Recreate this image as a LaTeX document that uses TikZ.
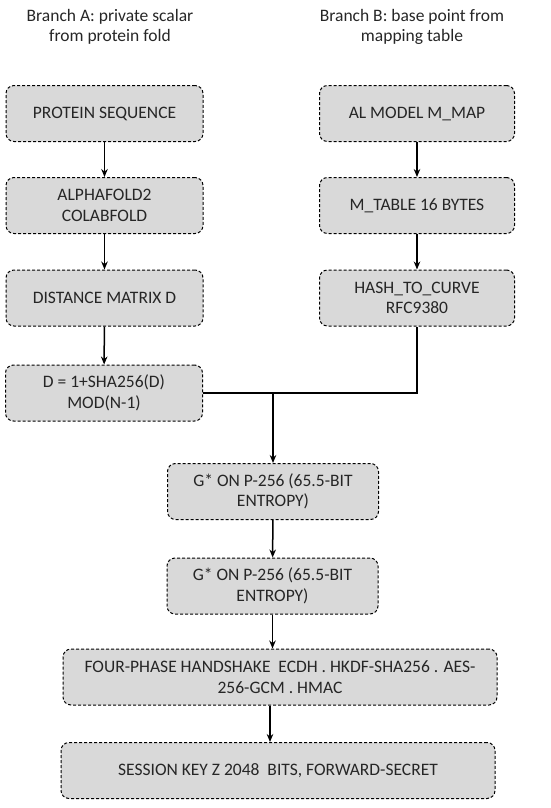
\documentclass[tikz,border=0pt]{standalone}
\usepackage{fontspec}
\setmainfont{Carlito}
\usetikzlibrary{arrows.meta}
\definecolor{boxgray}{HTML}{D9D9D9}

\begin{document}
\begin{tikzpicture}[x=1pt,y=-1pt,>={Stealth[length=8pt,width=6.5pt]},line width=1.5pt,
  font=\fontsize{17.5pt}{20.5pt}\selectfont,
  stage/.style={draw,dash pattern=on 3pt off 2pt,line width=1pt,rounded corners=8pt,fill=boxgray,
    align=center,minimum height=56pt,inner sep=2pt,text=black!85}]
\useasboundingbox (0,0) rectangle (550,808);

% branch titles
\node[align=center,text=black!85] (titleA) at (110,27) {Branch A: private scalar\\from protein fold};
\node[align=center,text=black!85] (titleB) at (412,27) {Branch B: base point from\\mapping table};

% branch A
\node[stage,minimum width=197pt] (A1) at (104.5,113.5) {PROTEIN SEQUENCE};
\node[stage,minimum width=197pt] (A2) at (104.5,205.5) {ALPHAFOLD2\\COLABFOLD};
\node[stage,minimum width=197pt] (A3) at (104.5,298) {DISTANCE MATRIX D};
\node[stage,minimum width=197pt] (A4) at (104,393) {D = 1+SHA256(D)\\MOD(N-1)};

% branch B
\node[stage,minimum width=195pt] (B1) at (417,113.5) {AL MODEL M\_MAP};
\node[stage,minimum width=195pt] (B2) at (417,205.5) {M\_TABLE 16 BYTES};
\node[stage,minimum width=195pt] (B3) at (417,298) {HASH\_TO\_CURVE\\RFC9380};

% merged chain
\node[stage,minimum width=211pt] (G1) at (273,491.5) {G* ON P-256 (65.5-BIT\\ENTROPY)};
\node[stage,minimum width=211pt] (G2) at (272.5,586) {G* ON P-256 (65.5-BIT\\ENTROPY)};
\node[stage,minimum width=434pt] (H) at (280,677)
  {FOUR-PHASE HANDSHAKE\ \ ECDH . HKDF-SHA256 . AES-\\256-GCM . HMAC};
\node[stage,minimum width=434pt] (S) at (278,770.5) {SESSION KEY Z 2048\ \ BITS, FORWARD-SECRET};

\draw [->] (A1) -- (A2);
\draw [->] (A2) -- (A3);
\draw [->] (A3) -- (A4);
\draw [->] (B1) -- (B2);
\draw [->] (B2) -- (B3);

\coordinate (join) at (G1.north |- A4.east);
\draw (A4.east) -- (join);
\draw (B3.south) |- (join);
\draw [->] (join) -- (G1);

\draw [->] (G1) -- (G2);
\draw [->] (G2.south) -- (G2.south |- H.north);
\draw [->] (H.south -| 270,0) -- (S.north -| 270,0);

\end{tikzpicture}
\end{document}
